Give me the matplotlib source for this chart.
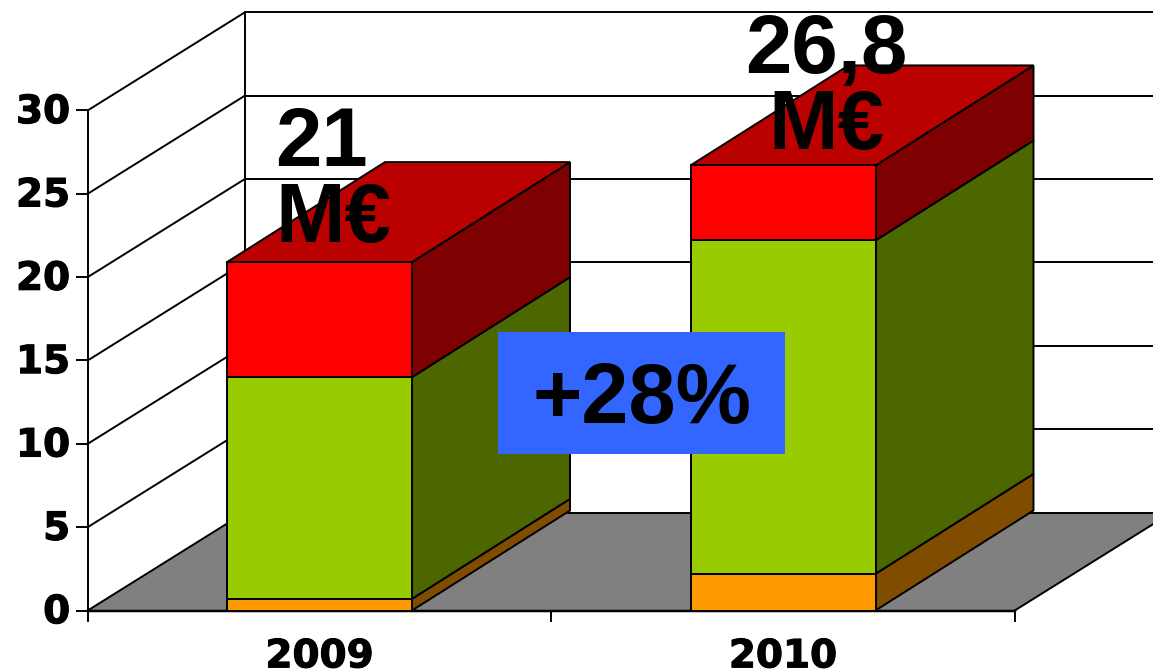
"""Fake 3D stacked column chart, 2009 vs 2010, in M€."""

# libraries
import matplotlib.pyplot as plt
import matplotlib.patheffects as pe
from matplotlib.patches import Polygon, Rectangle

plt.rcParams["font.family"] = ["Liberation Sans", "DejaVu Sans"]

# data
YEARS = ["2009", "2010"]
ORANGE_VALUES = [0.7, 2.2]
GREEN_VALUES = [13.3, 20.0]
RED_VALUES = [6.9, 4.5]
Y_TICKS = [0, 5, 10, 15, 20, 25, 30]
TOTAL_LABELS = ["21\nM€", "26,8\nM€"]
GROWTH_LABEL = "+28%"

# look of the chart, 3D offset is in axis units
WIDTH, HEIGHT, DPI = 1153, 672, 100
X_UNIT = 463.5  # pixels per category
Y_UNIT = 16.67  # pixels per value
DEPTH_X = 157 / X_UNIT
DEPTH_Y = 98 / Y_UNIT
BAR_DEPTH_X = 158 / X_UNIT
BAR_DEPTH_Y = 100 / Y_UNIT
BAR_WIDTH = 185 / X_UNIT
LINE = 1.4
# the original labels are heavy and stretched, a thin stroke gets the weight back
TICK_FONT = {
    "family": "DejaVu Sans",
    "fontsize": 28,
    "fontweight": "bold",
    "path_effects": [pe.withStroke(linewidth=0.8, foreground="black")],
}

# front colour, side colour
ORANGE = ("#ff9900", "#7f4c00")
GREEN = ("#99cc00", "#4c6600")
RED = ("#ff0000", "#7f0000")
RED_TOP = "#bb0000"


def draw_column(ax, x, values):
    """Stack the segments of one column, each with a front and a side face."""
    left = x - BAR_WIDTH / 2
    right = x + BAR_WIDTH / 2
    bottom = 0
    for value, colours in zip(values, (ORANGE, GREEN, RED)):
        top = bottom + value
        ax.add_patch(
            Rectangle((left, bottom), BAR_WIDTH, value, fc=colours[0], ec="black", lw=LINE, zorder=4)
        )
        side = [
            (right, bottom),
            (right + BAR_DEPTH_X, bottom + BAR_DEPTH_Y),
            (right + BAR_DEPTH_X, top + BAR_DEPTH_Y),
            (right, top),
        ]
        ax.add_patch(Polygon(side, fc=colours[1], ec="black", lw=LINE, zorder=3))
        bottom = top
    lid = [
        (left, bottom),
        (left + BAR_DEPTH_X, bottom + BAR_DEPTH_Y),
        (right + BAR_DEPTH_X, bottom + BAR_DEPTH_Y),
        (right, bottom),
    ]
    ax.add_patch(Polygon(lid, fc=RED_TOP, ec="black", lw=LINE, zorder=3))


fig = plt.figure(figsize=(WIDTH / DPI, HEIGHT / DPI), dpi=DPI)
ax = fig.add_axes([0, 0, 1, 1])
ax.axis("off")
# keep the same scale as the picture: 2009 centred on 319.5 px, zero on 610.5 px
ax.set_xlim(-319.5 / X_UNIT, (WIDTH - 319.5) / X_UNIT)
ax.set_ylim(-(HEIGHT - 610.5) / Y_UNIT, 610.5 / Y_UNIT)

x_start = -0.5
x_end = len(YEARS) - 0.5
y_top = max(Y_TICKS)
far_right = x_end + 2 * DEPTH_X

# floor
floor = [
    (x_start, 0),
    (x_start + DEPTH_X, DEPTH_Y),
    (x_end + DEPTH_X, DEPTH_Y),
    (x_end, 0),
]
ax.add_patch(Polygon(floor, fc="#808080", ec="none", zorder=1))
ax.plot([x_end, x_end + DEPTH_X], [0, DEPTH_Y], color="black", lw=LINE, zorder=2)

# walls and grid
for tick in Y_TICKS:
    ax.plot([x_start, x_start + DEPTH_X], [tick, tick + DEPTH_Y], color="black", lw=LINE, zorder=2)
    ax.plot([x_start + DEPTH_X, far_right], [tick + DEPTH_Y] * 2, color="black", lw=LINE, zorder=2)
    ax.plot([x_start - 0.023, x_start], [tick, tick], color="black", lw=LINE, zorder=2)
    ax.text(x_start - 0.038, tick - 0.1, str(tick), ha="right", va="center", **TICK_FONT)
ax.plot([x_start + DEPTH_X] * 2, [DEPTH_Y, y_top + DEPTH_Y], color="black", lw=LINE, zorder=2)
ax.plot([x_start, x_start], [0, y_top], color="black", lw=LINE, zorder=2)
ax.plot([x_start, x_end], [0, 0], color="black", lw=LINE + 0.4, zorder=2)

# x axis ticks sit between the categories
for i in range(len(YEARS) + 1):
    ax.plot([x_start + i] * 2, [0, -0.6], color="black", lw=LINE, zorder=2)

# columns
for i, year in enumerate(YEARS):
    draw_column(ax, i, [ORANGE_VALUES[i], GREEN_VALUES[i], RED_VALUES[i]])
    ax.text(i, -2.75, year, ha="center", va="center", **TICK_FONT)

# totals above the columns
ax.text(
    -0.095, 25.7, TOTAL_LABELS[0], ha="left", va="center", multialignment="left",
    fontsize=60, fontweight="bold", linespacing=0.96, zorder=6,
)
ax.text(
    1.094, 31.3, TOTAL_LABELS[1], ha="center", va="center",
    fontsize=60, fontweight="bold", linespacing=0.96, zorder=6,
)

# growth box
ax.text(
    0.695, 12.55, GROWTH_LABEL, ha="center", va="center", fontsize=61, fontweight="bold", zorder=7,
)
ax.add_patch(Rectangle((0.385, 9.41), 0.62, 7.32, fc="#3366ff", ec="none", zorder=6))

fig.savefig("out.png", dpi=DPI)

# EOF (End-Of-File)
